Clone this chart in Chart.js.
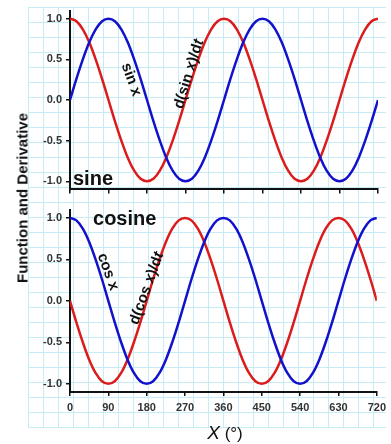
<!DOCTYPE html>
<html><head><meta charset="utf-8">
<script src="https://cdn.jsdelivr.net/npm/chart.js@4"></script>
<style>
html,body{margin:0;padding:0;background:#fff;}
#wrap{position:relative;width:391px;height:444px;overflow:hidden;}
#paper{position:absolute;left:28px;top:7px;width:358px;height:421px;
 background-image:linear-gradient(to right,#c8ecf5 1px,transparent 1px),linear-gradient(to bottom,#c8ecf5 1px,transparent 1px);
 background-size:15px 15px;}
canvas{position:absolute;left:0;}
#ytitle{position:absolute;left:22px;top:198px;transform:translate(-50%,-50%) rotate(-90deg);white-space:nowrap;font:bold 15px "Liberation Sans",Arial,sans-serif;color:#111;}
#xtitle{position:absolute;left:225px;top:433px;transform:translate(-50%,-50%);white-space:nowrap;font:17px "Liberation Sans",Arial,sans-serif;color:#111;}
#xtitle i{font-size:19px;}
</style></head>
<body>
<div id="wrap">
  <div id="paper"></div>
  <canvas id="c1" width="391" height="200" style="top:0px"></canvas>
  <canvas id="c2" width="391" height="245" style="top:199px"></canvas>
  <div id="ytitle">Function and Derivative</div>
  <div id="xtitle"><i>X</i> (°)</div>
</div>
<script>
const xDeg = [0,15,30,45,60,75,90,105,120,135,150,165,180,195,210,225,240,255,270,285,300,315,330,345,360,
  375,390,405,420,435,450,465,480,495,510,525,540,555,570,585,600,615,630,645,660,675,690,705,720];
const sinX = [0,0.26,0.5,0.71,0.87,0.97,1,0.97,0.87,0.71,0.5,0.26,0,-0.26,-0.5,-0.71,-0.87,-0.97,-1,-0.97,-0.87,-0.71,-0.5,-0.26,0,
  0.26,0.5,0.71,0.87,0.97,1,0.97,0.87,0.71,0.5,0.26,0,-0.26,-0.5,-0.71,-0.87,-0.97,-1,-0.97,-0.87,-0.71,-0.5,-0.26,0];
const dSinX = [1,0.97,0.87,0.71,0.5,0.26,0,-0.26,-0.5,-0.71,-0.87,-0.97,-1,-0.97,-0.87,-0.71,-0.5,-0.26,0,0.26,0.5,0.71,0.87,0.97,1,
  0.97,0.87,0.71,0.5,0.26,0,-0.26,-0.5,-0.71,-0.87,-0.97,-1,-0.97,-0.87,-0.71,-0.5,-0.26,0,0.26,0.5,0.71,0.87,0.97,1];
const cosX = [1,0.97,0.87,0.71,0.5,0.26,0,-0.26,-0.5,-0.71,-0.87,-0.97,-1,-0.97,-0.87,-0.71,-0.5,-0.26,0,0.26,0.5,0.71,0.87,0.97,1,
  0.97,0.87,0.71,0.5,0.26,0,-0.26,-0.5,-0.71,-0.87,-0.97,-1,-0.97,-0.87,-0.71,-0.5,-0.26,0,0.26,0.5,0.71,0.87,0.97,1];
const dCosX = [0,-0.26,-0.5,-0.71,-0.87,-0.97,-1,-0.97,-0.87,-0.71,-0.5,-0.26,0,0.26,0.5,0.71,0.87,0.97,1,0.97,0.87,0.71,0.5,0.26,0,
  -0.26,-0.5,-0.71,-0.87,-0.97,-1,-0.97,-0.87,-0.71,-0.5,-0.26,0,0.26,0.5,0.71,0.87,0.97,1,0.97,0.87,0.71,0.5,0.26,0];
const xTicks = [0,90,180,270,360,450,540,630,720];
const yTicks = [-1,-0.5,0,0.5,1];

const FAM = '"Liberation Sans", Arial, sans-serif';
const BLUE = '#1212cc', RED = '#dc1c1c';

function fontStr(p){ return (p.italic?'italic ':'') + 'bold ' + p.size + 'px ' + FAM; }
function makeTextPlugin(items){
  return {
    id:'txt',
    afterDatasetsDraw(chart){
      const ctx = chart.ctx, xs = chart.scales.x, ys = chart.scales.y;
      items.forEach(it=>{
        const px = xs.getPixelForValue(it.x), py = ys.getPixelForValue(it.y);
        ctx.save();
        ctx.translate(px, py);
        ctx.rotate(it.angle*Math.PI/180);
        ctx.fillStyle = '#111';
        ctx.textBaseline = it.baseline || 'middle';
        ctx.textAlign = 'left';
        let total = 0;
        it.parts.forEach(p=>{ ctx.font = fontStr(p); total += ctx.measureText(p.t).width; });
        let x = it.align === 'left' ? 0 : -total/2;
        it.parts.forEach(p=>{ ctx.font = fontStr(p); ctx.fillText(p.t, x, 0); x += ctx.measureText(p.t).width; });
        ctx.restore();
      });
    }
  };
}

function yScale(){
  return {
    type:'linear', min:-1.1, max:1.1,
    afterBuildTicks(s){ s.ticks = yTicks.map(v=>({value:v})); },
    afterFit(s){ s.width = 70; },
    grid:{display:true, drawOnChartArea:false, drawTicks:true, tickLength:4, color:'#111', lineWidth:1.5},
    border:{display:true, color:'#111', width:2},
    ticks:{padding:4, color:'#333', font:{family:FAM, size:11, weight:'bold'}, callback:v=>Number(v).toFixed(1)}
  };
}
function xScale(h, showLabels){
  return {
    type:'linear', min:0, max:720,
    afterBuildTicks(s){ s.ticks = xTicks.map(v=>({value:v})); },
    afterFit(s){ s.height = h; },
    grid:{display:true, drawOnChartArea:false, drawTicks:true, tickLength:4, color:'#111', lineWidth:1.5},
    border:{display:true, color:'#111', width:2},
    ticks:{display:showLabels, padding:5, autoSkip:false, maxRotation:0, color:'#333', font:{family:FAM, size:11, weight:'bold'}}
  };
}
function ds(label, ys, color){
  return {label, data:xDeg.map((x,i)=>({x, y:ys[i]})), borderColor:color, borderWidth:2.5,
    pointRadius:0, fill:false, cubicInterpolationMode:'monotone'};
}
function makeChart(id, datasets, xh, showLabels, items){
  new Chart(document.getElementById(id), {
    type:'line',
    data:{datasets},
    options:{
      responsive:false, animation:false, devicePixelRatio:1,
      layout:{padding:{top:8, right:13, left:0, bottom:0}},
      plugins:{legend:{display:false}, tooltip:{enabled:false}},
      scales:{x:xScale(xh, showLabels), y:yScale()}
    },
    plugins:[makeTextPlugin(items)]
  });
}

makeChart('c1', [ds('sin x', sinX, BLUE), ds('d(sin x)/dt', dSinX, RED)], 8, false, [
  {x:7, y:-1.04, angle:0, align:'left', baseline:'alphabetic', parts:[{t:'sine', size:20}]},
  {x:143, y:0.25, angle:70, parts:[{t:'sin x', size:15}]},
  {x:278, y:0.32, angle:-73, parts:[{t:'d(sin ', size:15},{t:'x', size:15, italic:true},{t:')/d', size:15},{t:'t', size:15, italic:true}]}
]);
makeChart('c2', [ds('cos x', cosX, BLUE), ds('d(cos x)/dt', dCosX, RED)], 52, true, [
  {x:54, y:0.91, angle:0, align:'left', baseline:'alphabetic', parts:[{t:'cosine', size:20}]},
  {x:89, y:0.35, angle:70, parts:[{t:'cos x', size:15}]},
  {x:180, y:0.15, angle:-70, parts:[{t:'d(cos ', size:15},{t:'x', size:15, italic:true},{t:')/d', size:15},{t:'t', size:15, italic:true}]}
]);
</script>
</body></html>
